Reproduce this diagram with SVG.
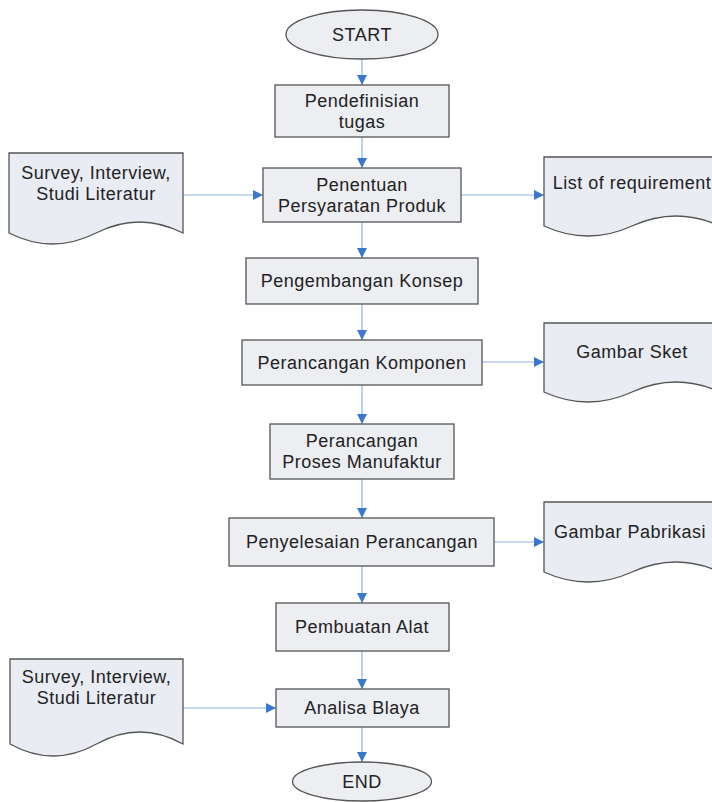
<svg xmlns="http://www.w3.org/2000/svg" width="712" height="802" viewBox="0 0 712 802">
<style>
.bx{fill:#eceef2;stroke:#555;stroke-width:1.3}
.dc{fill:#e9ecf2;stroke:#555;stroke-width:1.3}
.t{font-family:"Liberation Sans",Arial,sans-serif;font-size:18px;fill:#222;text-anchor:middle;letter-spacing:0.5px}
.c{fill:none;stroke:#8db2de;stroke-width:1.2}
</style>
<defs>
<marker id="ah" viewBox="0 0 10 10" refX="10" refY="5" markerWidth="10" markerHeight="10" markerUnits="userSpaceOnUse" orient="auto"><path d="M0,0 L10,5 L0,10 z" fill="#3a78cc"/></marker>
</defs>
<rect width="712" height="802" fill="#fff"/>
<g id="connectors">
<line class="c" x1="362" y1="59" x2="362" y2="85" marker-end="url(#ah)"/>
<line class="c" x1="362" y1="137" x2="362" y2="168" marker-end="url(#ah)"/>
<line class="c" x1="362" y1="222" x2="362" y2="258" marker-end="url(#ah)"/>
<line class="c" x1="362" y1="304" x2="362" y2="340" marker-end="url(#ah)"/>
<line class="c" x1="362" y1="385" x2="362" y2="424" marker-end="url(#ah)"/>
<line class="c" x1="362" y1="479" x2="362" y2="518" marker-end="url(#ah)"/>
<line class="c" x1="362" y1="566" x2="362" y2="603" marker-end="url(#ah)"/>
<line class="c" x1="362" y1="651" x2="362" y2="689" marker-end="url(#ah)"/>
<line class="c" x1="362" y1="727" x2="362" y2="762" marker-end="url(#ah)"/>
<line class="c" x1="183" y1="195" x2="263" y2="195" marker-end="url(#ah)"/>
<line class="c" x1="461" y1="195" x2="544" y2="195" marker-end="url(#ah)"/>
<line class="c" x1="482" y1="362" x2="544" y2="362" marker-end="url(#ah)"/>
<line class="c" x1="494" y1="542" x2="544" y2="542" marker-end="url(#ah)"/>
<line class="c" x1="183" y1="708" x2="276" y2="708" marker-end="url(#ah)"/>
</g>
<g id="start">
<ellipse class="bx" cx="362" cy="34.5" rx="76" ry="24.5"/>
<text class="t" x="362" y="41">START</text>
</g>
<g id="pendefinisian">
<rect class="bx" x="275" y="85" width="174" height="52"/>
<text class="t" x="362" y="106.5">Pendefinisian</text>
<text class="t" x="362" y="127.5">tugas</text>
</g>
<g id="survey1">
<path class="dc" d="M9,153 H183 V233 Q139.5,211 96,233 T9,233 Z"/>
<text class="t" x="96" y="179">Survey, Interview,</text>
<text class="t" x="96" y="200">Studi Literatur</text>
</g>
<g id="penentuan">
<rect class="bx" x="263" y="168" width="198" height="54"/>
<text class="t" x="362" y="190.5">Penentuan</text>
<text class="t" x="362" y="211.5">Persyaratan Produk</text>
</g>
<g id="list">
<path class="dc" d="M544,157 H720 V226 Q676,206 632,226 T544,226 Z"/>
<text class="t" x="632" y="189">List of requirement</text>
</g>
<g id="pengembangan">
<rect class="bx" x="246" y="258" width="232" height="46"/>
<text class="t" x="362" y="287">Pengembangan Konsep</text>
</g>
<g id="komponen">
<rect class="bx" x="242" y="340" width="240" height="45"/>
<text class="t" x="362" y="368.5">Perancangan Komponen</text>
</g>
<g id="sket">
<path class="dc" d="M544,323 H720 V392 Q676,372 632,392 T544,392 Z"/>
<text class="t" x="632" y="358">Gambar Sket</text>
</g>
<g id="manufaktur">
<rect class="bx" x="270" y="424" width="184" height="55"/>
<text class="t" x="362" y="447">Perancangan</text>
<text class="t" x="362" y="468">Proses Manufaktur</text>
</g>
<g id="penyelesaian">
<rect class="bx" x="229" y="518" width="265" height="48"/>
<text class="t" x="362" y="548">Penyelesaian Perancangan</text>
</g>
<g id="pabrikasi">
<path class="dc" d="M544,502 H720 V572 Q676,552 632,572 T544,572 Z"/>
<text class="t" x="630" y="538">Gambar Pabrikasi</text>
</g>
<g id="pembuatan">
<rect class="bx" x="276" y="603" width="173" height="48"/>
<text class="t" x="362" y="633">Pembuatan Alat</text>
</g>
<g id="survey2">
<path class="dc" d="M10,659 H183 V744 Q139.75,720 96.5,744 T10,744 Z"/>
<text class="t" x="96.5" y="683">Survey, Interview,</text>
<text class="t" x="96.5" y="704">Studi Literatur</text>
</g>
<g id="analisa">
<rect class="bx" x="276" y="689" width="173" height="38"/>
<text class="t" x="362" y="714">Analisa Blaya</text>
</g>
<g id="end">
<ellipse class="bx" cx="362" cy="781.5" rx="69.5" ry="19.5"/>
<text class="t" x="362" y="788">END</text>
</g>
</svg>
